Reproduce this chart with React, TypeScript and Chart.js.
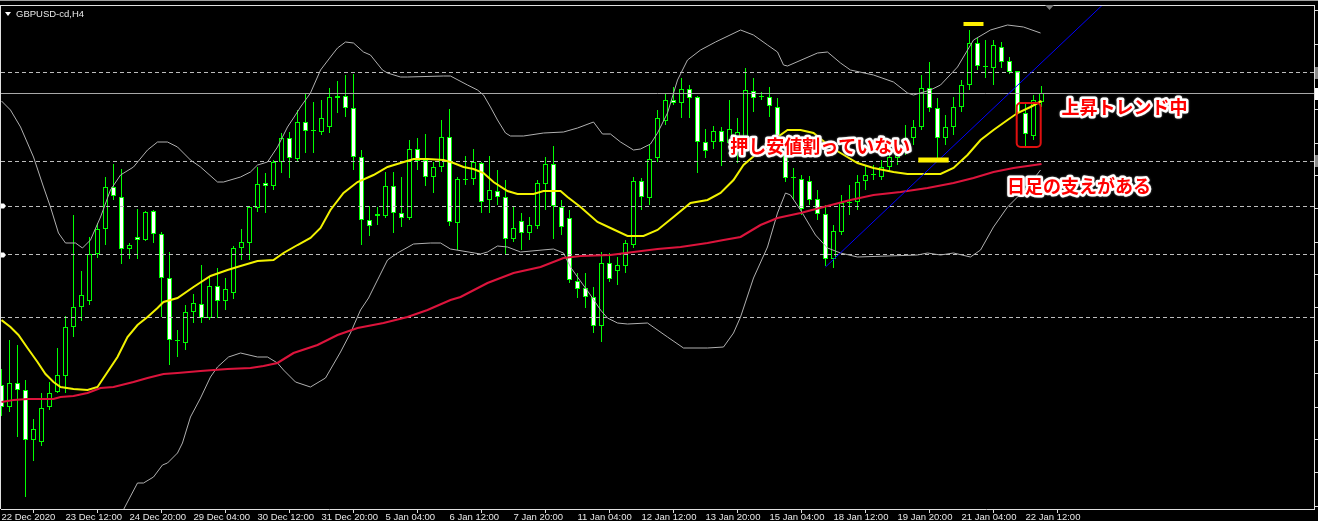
import React, { useEffect, useRef } from "react";
import { Chart, registerables } from "chart.js";
Chart.register(...registerables);

// ---- GBPUSD H4 candles (bar index 0 = 22 Dec 2020 04:00) ----
const openP = [1.3395,1.3373,1.3397,1.3390,1.3340,1.3338,1.3373,1.3388,1.3404,1.3453,1.3473,1.3479,1.3526,1.3551,1.3593,1.3583,1.3531,1.3543,1.3540,1.3569,1.3546,1.3502,1.3439,1.3437,1.3468,1.3476,1.3462,1.3494,1.3479,1.3487,1.3532,1.3537,1.3572,1.3597,1.3594,1.3618,1.3642,1.3621,1.3658,1.3649,1.3648,1.3653,1.3682,1.3684,1.3672,1.3623,1.3560,1.3566,1.3564,1.3594,1.3567,1.3562,1.3631,1.3620,1.3603,1.3613,1.3643,1.3557,1.3600,1.3601,1.3617,1.3580,1.3589,1.3583,1.3541,1.3559,1.3547,1.3554,1.3596,1.3616,1.3573,1.3562,1.3499,1.3492,1.3483,1.3454,1.3517,1.3509,1.3514,1.3535,1.3599,1.3582,1.3622,1.3659,1.3680,1.3677,1.3691,1.3683,1.3638,1.3638,1.3649,1.3637,1.3630,1.3642,1.3689,1.3684,1.3683,1.3673,1.3628,1.3602,1.3601,1.3599,1.3581,1.3566,1.3521,1.3548,1.3577,1.3578,1.3599,1.3605,1.3603,1.3613,1.3622,1.3630,1.3642,1.3653,1.3692,1.3672,1.3642,1.3653,1.3673,1.3695,1.3737,1.3713,1.3712,1.3733,1.3719,1.3709,1.3667,1.3644,1.3678];
const highP = [1.3411,1.3440,1.3435,1.3400,1.3361,1.3387,1.3398,1.3432,1.3464,1.3565,1.3509,1.3543,1.3557,1.3603,1.3616,1.3611,1.3537,1.3571,1.3569,1.3570,1.3548,1.3528,1.3450,1.3475,1.3486,1.3515,1.3503,1.3512,1.3502,1.3534,1.3551,1.3574,1.3613,1.3607,1.3620,1.3647,1.3648,1.3670,1.3687,1.3678,1.3680,1.3692,1.3699,1.3705,1.3706,1.3630,1.3574,1.3573,1.3608,1.3608,1.3603,1.3640,1.3642,1.3646,1.3618,1.3660,1.3671,1.3603,1.3624,1.3631,1.3618,1.3624,1.3610,1.3600,1.3573,1.3567,1.3563,1.3600,1.3623,1.3634,1.3580,1.3570,1.3507,1.3507,1.3493,1.3528,1.3527,1.3523,1.3540,1.3603,1.3602,1.3635,1.3670,1.3687,1.3693,1.3702,1.3695,1.3684,1.3651,1.3654,1.3653,1.3680,1.3662,1.3712,1.3702,1.3688,1.3693,1.3682,1.3630,1.3612,1.3605,1.3604,1.3590,1.3575,1.3555,1.3585,1.3595,1.3605,1.3615,1.3615,1.3620,1.3630,1.3640,1.3655,1.3660,1.3705,1.3718,1.3682,1.3665,1.3683,1.3700,1.3750,1.3742,1.3740,1.3740,1.3738,1.3723,1.3709,1.3677,1.3685,1.3694];
const lowP = [1.3364,1.3368,1.3343,1.3283,1.3319,1.3334,1.3370,1.3387,1.3387,1.3443,1.3459,1.3475,1.3522,1.3535,1.3580,1.3516,1.3521,1.3521,1.3539,1.3537,1.3463,1.3415,1.3423,1.3430,1.3457,1.3457,1.3460,1.3462,1.3470,1.3481,1.3520,1.3520,1.3568,1.3567,1.3590,1.3607,1.3602,1.3618,1.3627,1.3627,1.3645,1.3647,1.3667,1.3663,1.3610,1.3535,1.3544,1.3555,1.3562,1.3547,1.3553,1.3560,1.3610,1.3594,1.3587,1.3608,1.3554,1.3530,1.3595,1.3595,1.3567,1.3567,1.3575,1.3525,1.3538,1.3530,1.3540,1.3551,1.3570,1.3541,1.3545,1.3497,1.3482,1.3472,1.3447,1.3438,1.3498,1.3495,1.3507,1.3532,1.3570,1.3575,1.3618,1.3655,1.3675,1.3662,1.3662,1.3607,1.3622,1.3631,1.3614,1.3630,1.3617,1.3635,1.3668,1.3680,1.3663,1.3625,1.3598,1.3580,1.3565,1.3575,1.3560,1.3514,1.3512,1.3545,1.3565,1.3570,1.3590,1.3600,1.3600,1.3608,1.3615,1.3625,1.3635,1.3650,1.3668,1.3622,1.3635,1.3645,1.3668,1.3690,1.3710,1.3702,1.3695,1.3712,1.3706,1.3665,1.3633,1.3640,1.3673];
const closeP = [1.3373,1.3397,1.3390,1.3340,1.3351,1.3372,1.3387,1.3405,1.3453,1.3473,1.3485,1.3526,1.3551,1.3593,1.3584,1.3531,1.3535,1.3540,1.3568,1.3546,1.3502,1.3440,1.3440,1.3468,1.3477,1.3462,1.3494,1.3479,1.3491,1.3532,1.3538,1.3573,1.3596,1.3594,1.3618,1.3642,1.3622,1.3658,1.3649,1.3650,1.3662,1.3683,1.3684,1.3672,1.3623,1.3560,1.3554,1.3564,1.3594,1.3567,1.3562,1.3631,1.3619,1.3603,1.3613,1.3643,1.3558,1.3601,1.3601,1.3618,1.3578,1.3590,1.3583,1.3541,1.3552,1.3547,1.3555,1.3597,1.3616,1.3574,1.3553,1.3500,1.3491,1.3483,1.3454,1.3517,1.3501,1.3515,1.3537,1.3599,1.3583,1.3621,1.3662,1.3680,1.3677,1.3691,1.3682,1.3638,1.3629,1.3649,1.3638,1.3651,1.3648,1.3690,1.3682,1.3683,1.3674,1.3628,1.3602,1.3603,1.3571,1.3580,1.3566,1.3521,1.3549,1.3577,1.3578,1.3598,1.3605,1.3606,1.3613,1.3623,1.3630,1.3642,1.3653,1.3692,1.3672,1.3642,1.3653,1.3673,1.3695,1.3737,1.3714,1.3714,1.3735,1.3718,1.3708,1.3667,1.3646,1.3680,1.3687];

// time-axis labels, one every 8 bars
const xTickLabels = ["22 Dec 2020","23 Dec 12:00","24 Dec 20:00","29 Dec 04:00","30 Dec 12:00","31 Dec 20:00","5 Jan 04:00","6 Jan 12:00","7 Jan 20:00","11 Jan 04:00","12 Jan 12:00","13 Jan 20:00","15 Jan 04:00","18 Jan 12:00","19 Jan 20:00","21 Jan 04:00","22 Jan 12:00"];
const yTickValues = [1.3769,1.3736,1.3703,1.3670,1.3637,1.3604,1.3571,1.3538,1.3505,1.3472,1.3439,1.3406,1.3373,1.3340,1.3307,1.3274];

// Bollinger bands [bar index, price]
const upperBand = [[0,1.3679],[1.12,1.3670],[2.38,1.3653],[4,1.3623],[5.25,1.3593],[6.12,1.3573],[7.12,1.3547],[8,1.3537],[9.25,1.3537],[10.12,1.3532],[11.12,1.3540],[12.38,1.3563],[13.62,1.3590],[14.88,1.3605],[16.5,1.3613],[18.25,1.3630],[19.5,1.3638],[20.75,1.3638],[22,1.3633],[23.62,1.3620],[24.88,1.3613],[27,1.3598],[27.75,1.3598],[29.88,1.3603],[31.12,1.3608],[32,1.3615],[33.25,1.3618],[34.5,1.3633],[35.75,1.3653],[36.5,1.3662],[37.38,1.3673],[38.62,1.3687],[39.88,1.3710],[41.12,1.3723],[42,1.3732],[43,1.3738],[44,1.3737],[45.25,1.3728],[46.12,1.3725],[47.62,1.3710],[48.25,1.3707],[49.88,1.3703],[50.75,1.3703],[55.25,1.3704],[56.12,1.3704],[58.25,1.3695],[59.5,1.3690],[60.25,1.3685],[61.12,1.3673],[62,1.3660],[63,1.3647],[63.62,1.3644],[65.25,1.3644],[67.75,1.3647],[70.25,1.3648],[72,1.3652],[74,1.3658],[75.12,1.3646],[76.12,1.3646],[77.38,1.3638],[79,1.3630],[79.88,1.3631],[81.12,1.3636],[82,1.3647],[83.25,1.3667],[84.5,1.3700],[85.75,1.3720],[87.38,1.3730],[89.25,1.3738],[92.38,1.3750],[94,1.3745],[95.75,1.3735],[97,1.3728],[97.75,1.3715],[98.25,1.3714],[102,1.3727],[103.25,1.3728],[104.88,1.3717],[106.12,1.3710],[109,1.3705],[111.5,1.3698],[113.25,1.3687],[114,1.3685],[116.12,1.3690],[117.38,1.3695],[119.5,1.3713],[121.5,1.3740],[123.62,1.3750],[125.75,1.3755],[127.75,1.3753],[129.88,1.3747]];
const lowerBand = [[14.25,1.3255],[15.88,1.3280],[17,1.3297],[17.75,1.3297],[19,1.3303],[20.12,1.3315],[20.75,1.3317],[22,1.3327],[22.62,1.3337],[23.62,1.3363],[24.88,1.3382],[26.12,1.3403],[27,1.3413],[28.38,1.3423],[29.88,1.3427],[32,1.3423],[33.25,1.3423],[34.5,1.3417],[35.25,1.3410],[36.75,1.3398],[38.62,1.3393],[40.5,1.3402],[42.38,1.3428],[43.62,1.3447],[44.88,1.3470],[45.88,1.3482],[47,1.3500],[48.25,1.3520],[49.5,1.3527],[51.5,1.3536],[53.62,1.3537],[54.88,1.3537],[56.12,1.3531],[59.88,1.3526],[60.75,1.3528],[62,1.3534],[63.25,1.3533],[64.88,1.3528],[69,1.3531],[70.25,1.3527],[71.12,1.3513],[72,1.3503],[73.62,1.3485],[74.88,1.3470],[75.75,1.3462],[77,1.3457],[78.25,1.3456],[80.75,1.3457],[83.25,1.3443],[85.25,1.3432],[88.25,1.3432],[90.25,1.3433],[91.5,1.3447],[92.38,1.3463],[94,1.3502],[95.75,1.3533],[97,1.3567],[98,1.3587],[98.62,1.3585],[99.88,1.3570],[101.75,1.3545],[103.25,1.3532],[104.88,1.3527],[107,1.3523],[114.5,1.3525],[115.75,1.3527],[117.38,1.3525],[119,1.3527],[121.12,1.3523],[122.38,1.3530],[124,1.3553],[125.75,1.3573],[127,1.3583],[128.62,1.3597],[129.88,1.3610]];
const middleBand = [[0,1.3460],[1.12,1.3453],[2.12,1.3445],[3.25,1.3432],[4.5,1.3418],[5.5,1.3406],[6.5,1.3398],[7.38,1.3393],[9,1.3391],[10.75,1.3390],[12,1.3393],[13.25,1.3408],[14.5,1.3423],[15.75,1.3443],[17,1.3455],[18.25,1.3463],[19.5,1.3472],[20.25,1.3478],[22,1.3482],[24,1.3493],[26.12,1.3504],[28.25,1.3510],[29.88,1.3514],[32,1.3519],[34,1.3520],[35.25,1.3527],[37,1.3535],[38.62,1.3542],[39.88,1.3552],[41.12,1.3570],[42.75,1.3587],[44.5,1.3598],[46.5,1.3605],[48.25,1.3613],[49.88,1.3617],[51.5,1.3621],[53.25,1.3621],[55.25,1.3620],[56.5,1.3617],[57.75,1.3613],[59,1.3611],[60.25,1.3607],[61.5,1.3598],[63.25,1.3589],[64.5,1.3586],[66.5,1.3586],[67.75,1.3589],[69.88,1.3589],[70.75,1.3583],[72.38,1.3573],[74.5,1.3558],[76.12,1.3552],[78.25,1.3544],[80.25,1.3544],[82,1.3550],[84,1.3563],[86.12,1.3577],[88.25,1.3580],[89.88,1.3587],[91.5,1.3600],[92.75,1.3615],[94.5,1.3627],[96.5,1.3640],[98.25,1.3650],[99.88,1.3650],[101.5,1.3647],[103.62,1.3633],[104.88,1.3627],[107,1.3617],[109,1.3612],[111.5,1.3608],[113.25,1.3606],[117.38,1.3606],[119,1.3612],[120.75,1.3625],[122.38,1.3640],[124,1.3650],[125.75,1.3660],[127,1.3667],[128.62,1.3673],[130,1.3679]];
// daily-support moving average (red)
const dailyMA = [[0,1.3378],[1.5,1.3380],[3.25,1.3381],[6.5,1.3381],[7.38,1.3383],[9,1.3384],[10.75,1.3387],[12.38,1.3392],[14,1.3393],[16.5,1.3398],[18.25,1.3402],[20.25,1.3406],[22,1.3407],[24.88,1.3409],[28.25,1.3411],[31.12,1.3412],[32.75,1.3414],[34.5,1.3417],[36.5,1.3427],[39.5,1.3435],[42,1.3445],[44.5,1.3452],[47.75,1.3457],[50.75,1.3463],[53.25,1.3470],[56.12,1.3480],[57.38,1.3483],[60.75,1.3497],[64,1.3507],[67.38,1.3513],[70.25,1.3522],[72.38,1.3524],[76.12,1.3525],[79,1.3528],[82,1.3531],[84.88,1.3533],[88.25,1.3537],[90.25,1.3540],[92.38,1.3543],[94.88,1.3555],[97,1.3562],[99.88,1.3567],[102.75,1.3573],[106.12,1.3580],[109,1.3585],[112.38,1.3588],[115.75,1.3592],[119,1.3597],[121.5,1.3602],[124,1.3608],[126.5,1.3612],[130,1.3616]];

// horizontal lines
const dashedLevels = [1.37075, 1.36185, 1.35735, 1.35255, 1.34625];
const bidLevel = 1.36865;
// trend line and yellow highlight marks
const trendLine = [[103, 1.3513], [140, 1.3793]];
const highMark = [[120.25, 1.3756], [122.75, 1.3756]];
const lowMark = [[114.6, 1.3620], [118.4, 1.3620]];
// red highlight box [index0, index1], [priceTop, priceBottom]
const boxIdx = [126.9, 129.9];
const boxPrice = [1.3677, 1.3633];
// annotations
const noteText = ["上昇トレンド中", "押し安値割っていない", "日足の支えがある"];
const noteIdx = [132.5, 91.1, 125.7];
const notePrice = [1.3673, 1.3634, 1.3594];

const X_MIN = -0.0625;
const X_MAX = 164.0625;
const Y_MIN = 1.3271;
const Y_MAX = 1.3774;

export default function App() {
  const ref = useRef<HTMLCanvasElement>(null);
  useEffect(() => {
    const canvas = ref.current!;
    const idx = openP.map((_, i) => i);
    const pts = (arr: number[][]) => arr.map(([x, y]) => ({ x, y }));
    const lineDs = (label: string, data: any[], color: string, width: number, order: number, dash: number[] = []) => ({
      type: "line" as const,
      label,
      data,
      borderColor: color,
      borderWidth: width,
      borderDash: dash,
      borderCapStyle: "butt",
      pointRadius: 0,
      fill: false,
      tension: 0,
      order,
    });
    const datasets: any[] = [
      {
        type: "bar",
        label: "wick",
        data: idx.map((i) => ({ x: i, y: [lowP[i], highP[i]] })),
        backgroundColor: "#00FF00",
        borderWidth: 0,
        barThickness: 1,
        grouped: false,
        inflateAmount: 0,
        order: 30,
      },
      {
        type: "bar",
        label: "body",
        data: idx.map((i) => ({ x: i, y: [openP[i], closeP[i]] })),
        backgroundColor: idx.map((i) => (closeP[i] >= openP[i] ? "#000000" : "#FFFFFF")),
        borderColor: "#00FF00",
        borderWidth: 1,
        borderSkipped: false,
        barThickness: 5,
        grouped: false,
        inflateAmount: 0,
        order: 29,
      },
      ...dashedLevels.map((p, i) =>
        lineDs("level" + i, [{ x: X_MIN, y: p }, { x: X_MAX, y: p }], "#BDBDBD", 1, 10, [4, 3])
      ),
      lineDs("bid", [{ x: X_MIN, y: bidLevel }, { x: X_MAX, y: bidLevel }], "#A8A8A8", 1, 10),
      lineDs("upper", pts(upperBand), "#B0B0B0", 1, 8),
      lineDs("lower", pts(lowerBand), "#B0B0B0", 1, 8),
      lineDs("dailyMA", pts(dailyMA), "#DC143C", 2.2, 6),
      lineDs("middle", pts(middleBand), "#F2F200", 2, 5),
      lineDs("trend", pts(trendLine), "#0000FF", 1, 4),
      lineDs("highMark", pts(highMark), "#FFF000", 4, 3),
      lineDs("lowMark", pts(lowMark), "#FFF000", 5, 3),
    ];

    const bgPlugin = {
      id: "bg",
      beforeDraw(chart: any) {
        const c = chart.ctx;
        c.save();
        c.fillStyle = "#000000";
        c.fillRect(0, 0, chart.width, chart.height);
        c.restore();
      },
      afterDraw(chart: any) {
        const c = chart.ctx;
        const xs = chart.scales.x;
        const ys = chart.scales.y;
        const a = chart.chartArea;
        c.save();
        // top strip and frame
        c.fillStyle = "#A0A0A0";
        c.fillRect(0, 0, chart.width, 1);
        c.fillStyle = "#E0E0E0";
        c.fillRect(0, a.top - 1, a.right + 1, 1);
        c.fillRect(0, a.top - 1, 1, a.bottom - a.top + 1);
        // price boxes at right edge
        const boxes: [number, string][] = [
          [dashedLevels[0], "#8C8C8C"],
          [bidLevel, "#FFFFFF"],
          [dashedLevels[1], "#8C8C8C"],
        ];
        boxes.forEach(([p, col]) => {
          const y = ys.getPixelForValue(p);
          c.fillStyle = col;
          c.fillRect(a.right + 1, Math.round(y - 6), chart.width - a.right - 1, 12);
        });
        // small level markers at left edge
        c.fillStyle = "#FFFFFF";
        [dashedLevels[2], dashedLevels[3]].forEach((p) => {
          const y = Math.round(ys.getPixelForValue(p));
          c.beginPath();
          c.moveTo(1, y - 2.5);
          c.lineTo(4, y - 2.5);
          c.lineTo(6, y);
          c.lineTo(4, y + 2.5);
          c.lineTo(1, y + 2.5);
          c.closePath();
          c.fill();
        });
        // chart shift marker
        const sx = xs.getPixelForValue(131);
        c.fillStyle = "#7A7A7A";
        c.beginPath();
        c.moveTo(sx - 4.5, a.top - 1);
        c.lineTo(sx + 4.5, a.top - 1);
        c.lineTo(sx, a.top + 4);
        c.closePath();
        c.fill();
        // title
        c.fillStyle = "#FFFFFF";
        c.beginPath();
        c.moveTo(5, 12);
        c.lineTo(11, 12);
        c.lineTo(8, 16);
        c.closePath();
        c.fill();
        c.font = '9.5px "Liberation Sans", Arial, sans-serif';
        c.textBaseline = "middle";
        c.textAlign = "left";
        c.fillStyle = "#E8E8E8";
        c.fillText("GBPUSD-cd,H4", 16, 14.5);
        // red box
        const bx0 = xs.getPixelForValue(boxIdx[0]);
        const bx1 = xs.getPixelForValue(boxIdx[1]);
        const by0 = ys.getPixelForValue(boxPrice[0]);
        const by1 = ys.getPixelForValue(boxPrice[1]);
        c.strokeStyle = "#E01010";
        c.lineWidth = 2;
        c.beginPath();
        (c as any).roundRect(bx0, by0, bx1 - bx0, by1 - by0, 4);
        c.stroke();
        // annotations
        c.font = 'bold 18px "Noto Sans CJK JP", sans-serif';
        c.textBaseline = "middle";
        c.textAlign = "left";
        c.lineJoin = "round";
        noteText.forEach((t, i) => {
          const x = xs.getPixelForValue(noteIdx[i]);
          const y = ys.getPixelForValue(notePrice[i]);
          c.shadowColor = "rgba(150,150,150,0.9)";
          c.shadowBlur = 2;
          c.strokeStyle = "#FFFFFF";
          c.lineWidth = 5;
          c.strokeText(t, x, y);
          c.shadowColor = "transparent";
          c.shadowBlur = 0;
          c.fillStyle = "#FF0000";
          c.fillText(t, x, y);
        });
        c.restore();
      },
    };

    const chart = new Chart(canvas, {
      type: "bar",
      data: { datasets },
      options: {
        animation: false,
        responsive: false,
        devicePixelRatio: 1,
        events: [],
        layout: { padding: { left: 1, top: 6, right: 0, bottom: 0 } },
        plugins: { legend: { display: false }, tooltip: { enabled: false }, title: { display: false } },
        scales: {
          x: {
            type: "linear",
            position: "bottom",
            min: X_MIN,
            max: X_MAX,
            offset: false,
            grid: { drawOnChartArea: false, drawTicks: true, tickLength: 4, color: "#E0E0E0" },
            border: { display: true, color: "#E0E0E0" },
            ticks: {
              autoSkip: false,
              maxRotation: 0,
              minRotation: 0,
              align: "start",
              padding: 0,
              color: "#E6E6E6",
              font: { family: '"Liberation Sans", Arial, sans-serif', size: 9.5, lineHeight: 1 },
              callback: (v: any) => {
                const n = Number(v);
                return n % 8 === 0 ? xTickLabels[n / 8] ?? "" : "";
              },
            },
            afterBuildTicks: (s: any) => {
              s.ticks = xTickLabels.map((_, i) => ({ value: i * 8 }));
            },
            afterFit: (s: any) => {
              s.height = 12;
            },
          },
          y: {
            type: "linear",
            position: "right",
            min: Y_MIN,
            max: Y_MAX,
            grid: { drawOnChartArea: false, drawTicks: true, tickLength: 4, color: "#E0E0E0" },
            border: { display: true, color: "#E0E0E0" },
            ticks: { display: false },
            afterBuildTicks: (s: any) => {
              s.ticks = yTickValues.map((v) => ({ value: v }));
            },
            afterFit: (s: any) => {
              s.width = 4;
            },
          },
        },
      } as any,
      plugins: [bgPlugin],
    });
    return () => chart.destroy();
  }, []);
  return (
    <div style={{ position: "absolute", left: 0, top: 0, width: 1318, height: 521, background: "#000", overflow: "hidden" }}>
      <canvas ref={ref} width={1318} height={521} style={{ display: "block" }} />
    </div>
  );
}
